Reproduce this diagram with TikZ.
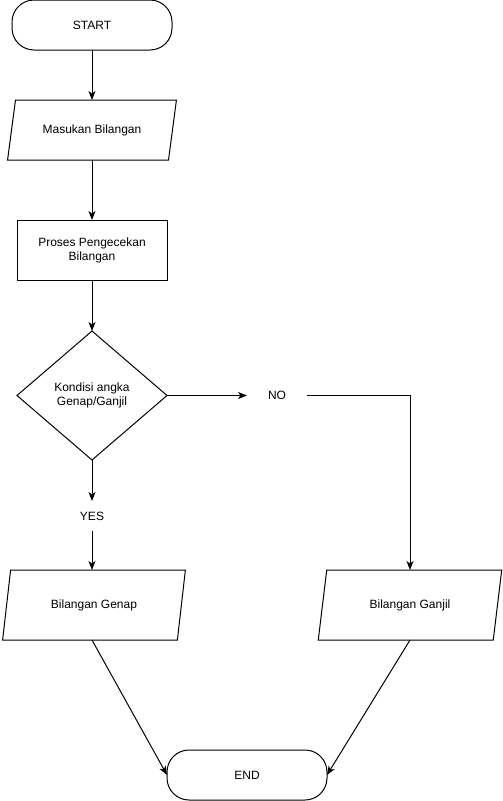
\documentclass[tikz,border=0pt]{standalone}
\usepackage{fontspec}
\setmainfont{Liberation Sans}
\usetikzlibrary{arrows.meta}
\usetikzlibrary{shapes}

\begin{document}
\begin{tikzpicture}[x=1pt,y=-1pt,line width=1pt,>={Stealth[length=9pt,width=7pt,inset=2.5pt]},
  font=\fontsize{12}{14}\selectfont,
  terminal/.style={draw,rectangle,rounded corners=22pt,minimum width=160pt,minimum height=50pt,outer sep=0pt},
  io/.style={draw,trapezium,trapezium left angle=73,trapezium right angle=107,trapezium stretches=true,outer sep=0pt},
  process/.style={draw,rectangle,minimum width=150pt,minimum height=60pt,align=center,outer sep=0pt},
  decision/.style={draw,diamond,minimum width=150pt,minimum height=129pt,align=center,outer sep=0pt},
  answer/.style={rectangle,minimum height=30pt,outer sep=0pt}]
\useasboundingbox (0,0) rectangle (503,801);
% The main column
\node[terminal] (start) at (92,25) {START};
\node[io,minimum width=169pt,minimum height=60pt] (input) at (92,130) {Masukan Bilangan};
\node[process] (check) at (92,250) {Proses Pengecekan\\Bilangan};
\node[decision] (cond) at (92,395.5) {Kondisi angka\\Genap/Ganjil};
%     the two answers
\node[answer,minimum width=60pt] (no) at (277,395.5) {NO};
\node[answer] (yes) at (92,516) {YES};
%     the two outputs
\node[io,trapezium left angle=76,trapezium right angle=104,minimum width=183pt,minimum height=70pt] (even) at (94,605) {Bilangan Genap};
\node[io,trapezium left angle=76,trapezium right angle=104,minimum width=185pt,minimum height=70pt] (odd) at (410,605) {Bilangan Ganjil};
\node[terminal] (end) at (247,775) {END};
% The connectors
\draw[->] (start) -- (input);
\draw[->] (input) -- (check);
\draw[->] (check) -- (cond);
\draw[->] (cond) -- (no);
\draw[->] (cond) -- (yes);
\draw[->] (yes) -- (yes |- even.north);
\draw[->] (no.east) -| (odd);
\draw[->] (yes |- even.south) -- (end.west);
\draw[->] (odd.south) -- (end.east);
\end{tikzpicture}
\end{document}
